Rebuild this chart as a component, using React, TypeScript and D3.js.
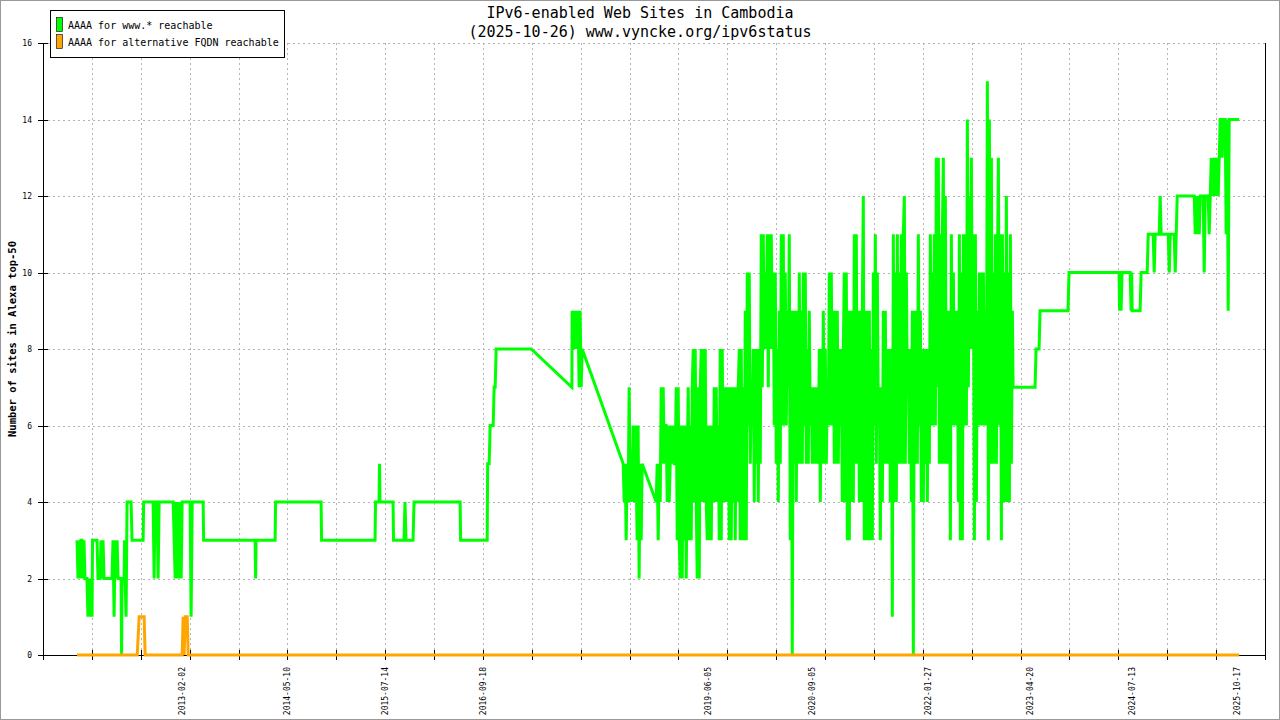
import React from "react";
import * as d3 from "d3";

// ---------- data ----------
const chartTitle = "IPv6-enabled Web Sites in Cambodia";
const chartSubtitle = "(2025-10-26) www.vyncke.org/ipv6status";
const yAxisLabel = "Number of sites in Alexa top-50";
const seriesNames = ["AAAA for www.* reachable", "AAAA for alternative FQDN reachable"];
const seriesColors = ["#00ff00", "#ffa500"];
const xDomainDates = ["2011-06-03", "2026-02-18"];
const yDomain = [0, 16];
const yTickValues = [0, 2, 4, 6, 8, 10, 12, 14, 16];
const xTickCount = 25;
const xTickLabels = [
  "2013-02-02", "2014-05-10", "2015-07-14", "2016-09-18", "2019-06-05",
  "2020-09-05", "2022-01-27", "2023-04-20", "2024-07-13", "2025-10-17",
];

// green series, [decimal year, sites]
const greenEarly: [number, number][] = [
  [2011.829, 3], [2011.841, 2], [2011.853, 3], [2011.865, 2], [2011.877, 3], [2011.889, 3],
  [2011.901, 2], [2011.913, 3], [2011.925, 2], [2011.949, 2], [2011.961, 1], [2011.973, 2],
  [2011.986, 1], [2011.998, 2], [2012.010, 1], [2012.016, 3], [2012.070, 3], [2012.082, 2],
  [2012.106, 2], [2012.118, 3], [2012.130, 2], [2012.142, 3], [2012.154, 2], [2012.250, 2],
  [2012.262, 3], [2012.275, 1], [2012.287, 3], [2012.299, 2], [2012.311, 3], [2012.323, 2],
  [2012.359, 2], [2012.365, 0], [2012.371, 2], [2012.395, 2], [2012.401, 3], [2012.407, 2],
  [2012.419, 1], [2012.431, 4], [2012.479, 4], [2012.491, 3], [2012.624, 3], [2012.630, 4],
  [2012.744, 4], [2012.756, 2], [2012.768, 4], [2012.792, 4], [2012.804, 2], [2012.816, 4],
  [2012.985, 4], [2012.997, 3], [2013.009, 2], [2013.021, 4], [2013.033, 2], [2013.045, 4],
  [2013.057, 2], [2013.069, 4], [2013.081, 2], [2013.093, 4], [2013.189, 4], [2013.201, 1],
  [2013.214, 4], [2013.346, 4], [2013.352, 3], [2013.972, 3], [2013.978, 2], [2013.984, 3],
  [2014.213, 3], [2014.219, 4], [2014.767, 4], [2014.773, 3], [2015.417, 3], [2015.423, 4],
  [2015.465, 4], [2015.471, 5], [2015.477, 4], [2015.634, 4], [2015.640, 3], [2015.766, 3],
  [2015.778, 4], [2015.790, 3], [2015.875, 3], [2015.887, 4], [2016.441, 4], [2016.447, 3],
  [2016.766, 3], [2016.772, 5], [2016.790, 5], [2016.802, 6], [2016.838, 6], [2016.850, 7],
  [2016.862, 7], [2016.874, 8], [2017.296, 8], [2017.786, 7], [2017.789, 9], [2017.801, 8],
  [2017.813, 9], [2017.825, 8], [2017.837, 9], [2017.849, 8], [2017.861, 9], [2017.873, 7],
  [2017.885, 9], [2017.898, 7], [2017.910, 8], [2018.404, 5], [2018.416, 4], [2018.428, 5],
  [2018.440, 3], [2018.452, 5], [2018.464, 4], [2018.476, 7], [2018.488, 4], [2018.500, 5],
  [2018.512, 4], [2018.524, 6], [2018.536, 4], [2018.548, 6], [2018.560, 5], [2018.572, 3],
  [2018.584, 6], [2018.596, 2], [2018.608, 5], [2018.621, 3], [2018.633, 5], [2018.802, 4],
];

// dense period 2018-10 .. 2023-02: readings every ~4.4 days
const greenNoiseStart = 2018.814;
const greenNoiseStepDays = 4.4;
const greenNoise: number[] = [
  5, 3, 5, 4, 7, 5, 7, 5, 6, 6, 4, 6, 4, 5, 6, 5, 6, 5, 5,
  7, 3, 7, 3, 2, 6, 2, 6, 3, 6, 2, 5, 7, 3, 6, 3, 7,
  8, 4, 8, 4, 2, 7, 2, 7, 8, 4, 8, 4, 8, 4, 3, 6,
  3, 6, 3, 6, 4, 7, 4, 7, 4, 6, 3, 8, 3, 8, 4,
  7, 4, 7, 4, 7, 3, 7, 3, 7, 4, 7, 3, 7, 4, 7,
  8, 3, 8, 3, 7, 3, 9, 3, 10, 6, 10, 5, 7, 6, 8,
  4, 8, 5, 8, 4, 8, 5, 11, 7, 11, 8, 10, 8, 11, 7,
  11, 8, 11, 8, 10, 6, 10, 5, 8, 4, 9, 5, 11, 6, 11,
  6, 10, 6, 9, 7, 11, 3, 9, 0, 9, 5, 9, 4, 9, 5,
  10, 5, 9, 5, 10, 6, 10, 5, 8, 5, 9, 6, 7, 5, 7, 5, 7,
  5, 7, 5, 8, 4, 8, 5, 9, 5, 8, 5, 7, 6,
  10, 6, 10, 6, 9, 5, 9, 5, 9, 5, 8, 6, 8, 4, 8,
  10, 4, 10, 3, 9, 3, 9, 4, 9, 4, 11, 5, 11, 5,
  9, 4, 9, 4, 9, 12, 3, 9, 3, 9, 3, 9, 3, 8, 3, 10,
  6, 11, 5, 10, 6, 7, 3, 7, 4, 9, 5, 9,
  5, 8, 5, 8, 4, 8, 1, 11, 4, 10, 4, 11,
  5, 10, 5, 11, 5, 11, 12, 5, 10, 7, 8, 5, 8, 4, 9, 0,
  9, 5, 9, 5, 11, 6, 9, 4, 8, 4, 8, 5, 8, 4, 8, 5,
  11, 6, 10, 6, 11, 6, 13, 7, 13, 5, 11, 5, 11, 13, 5, 12,
  5, 9, 5, 9, 3, 11, 6, 10, 6, 9, 6, 9,
  4, 11, 3, 10, 3, 11, 6, 11, 6, 14, 7, 12, 8, 13, 8,
  11, 3, 11, 4, 9, 6, 10, 6, 10, 6, 10, 6, 9, 6, 15, 3,
  14, 5, 13, 5, 10, 5, 11, 5, 10, 13, 6, 11, 3, 11, 4,
  10, 4, 12, 4, 10, 4, 11, 5, 9,
];

const greenLate: [number, number][] = [
  [2023.099, 7], [2023.364, 7], [2023.376, 8], [2023.412, 8], [2023.424, 9], [2023.761, 9],
  [2023.773, 10], [2024.375, 10], [2024.381, 9], [2024.387, 10], [2024.399, 9], [2024.411, 10],
  [2024.508, 10], [2024.520, 9], [2024.526, 10], [2024.532, 9], [2024.628, 9], [2024.640, 10],
  [2024.713, 10], [2024.725, 11], [2024.785, 11], [2024.797, 10], [2024.809, 11], [2024.857, 11],
  [2024.869, 12], [2024.881, 11], [2024.966, 11], [2024.978, 10], [2024.990, 11], [2025.038, 11],
  [2025.050, 10], [2025.062, 11], [2025.074, 12], [2025.279, 12], [2025.291, 11], [2025.303, 12],
  [2025.315, 11], [2025.327, 12], [2025.339, 11], [2025.351, 12], [2025.387, 12], [2025.399, 10],
  [2025.411, 12], [2025.447, 12], [2025.459, 11], [2025.472, 12], [2025.484, 13], [2025.496, 12],
  [2025.508, 13], [2025.520, 12], [2025.532, 13], [2025.544, 12], [2025.556, 13], [2025.568, 12],
  [2025.580, 13], [2025.592, 14], [2025.604, 14], [2025.616, 13], [2025.628, 14], [2025.652, 14],
  [2025.664, 11], [2025.676, 14], [2025.688, 9], [2025.700, 14], [2025.820, 14],
];

const orangePoints: [number, number][] = [
  [2011.829, 0], [2012.553, 0], [2012.576, 1], [2012.636, 1], [2012.648, 0], [2013.093, 0],
  [2013.105, 1], [2013.117, 0], [2013.130, 1], [2013.154, 1], [2013.166, 0], [2025.820, 0],
];

// ---------- helpers ----------
const DAY = 86400000;
function yearToDate(y: number): Date {
  const yr = Math.floor(y);
  const a = Date.UTC(yr, 0, 1);
  const b = Date.UTC(yr + 1, 0, 1);
  return new Date(a + (y - yr) * (b - a));
}
function parseDay(s: string): Date {
  const [y, m, d] = s.split("-").map(Number);
  return new Date(Date.UTC(y, m - 1, d));
}

const M = { left: 43, right: 1265, top: 43, bottom: 655 };
const MONO = "'DejaVu Sans Mono', 'Liberation Mono', monospace";

export default function App() {
  const x = d3
    .scaleUtc()
    .domain(xDomainDates.map(parseDay))
    .range([M.left, M.right]);
  const y = d3.scaleLinear().domain(yDomain).range([M.bottom, M.top]);

  const noiseStart = yearToDate(greenNoiseStart).getTime();
  const greenSeries: [Date, number][] = [
    ...greenEarly.map(([t, v]) => [yearToDate(t), v] as [Date, number]),
    ...greenNoise.map((v, i) => [new Date(noiseStart + i * greenNoiseStepDays * DAY), v] as [Date, number]),
    ...greenLate.map(([t, v]) => [yearToDate(t), v] as [Date, number]),
  ];
  const orangeSeries: [Date, number][] = orangePoints.map(([t, v]) => [yearToDate(t), v]);

  const line = d3
    .line<[Date, number]>()
    .x((d) => x(d[0]))
    .y((d) => y(d[1]));

  const [d0, d1] = x.domain().map((d) => d.getTime());
  const xTicks = d3.range(xTickCount + 1).map((i) => new Date(d0 + ((d1 - d0) * i) / xTickCount));

  return (
    <div style={{ position: "absolute", left: 0, top: 0 }}>
      <svg width={1280} height={720} style={{ display: "block", background: "#fff" }}>
        <rect x={0.5} y={0.5} width={1279} height={719} fill="#fff" stroke="#999" strokeWidth={1} />

        {/* grid */}
        <g stroke="#b4b4b4" strokeWidth={1} strokeDasharray="2,3" shapeRendering="crispEdges">
          {yTickValues.filter((v) => v > 0).map((v) => (
            <line key={"gy" + v} x1={M.left} x2={M.right} y1={Math.round(y(v)) + 0.5} y2={Math.round(y(v)) + 0.5} />
          ))}
          {xTicks.slice(1, -1).map((t, i) => (
            <line key={"gx" + i} x1={Math.round(x(t)) + 0.5} x2={Math.round(x(t)) + 0.5} y1={M.top} y2={M.bottom} />
          ))}
        </g>

        {/* axes */}
        <g stroke="#000" strokeWidth={1} shapeRendering="crispEdges">
          <line x1={M.left + 0.5} x2={M.left + 0.5} y1={M.top} y2={M.bottom + 5} />
          <line x1={M.right + 0.5} x2={M.right + 0.5} y1={M.top} y2={M.bottom + 5} />
          <line x1={M.left} x2={M.right} y1={M.bottom + 0.5} y2={M.bottom + 0.5} />
          {yTickValues.map((v) => (
            <line key={"ty" + v} x1={M.left - 5} x2={M.left + 5} y1={Math.round(y(v)) + 0.5} y2={Math.round(y(v)) + 0.5} />
          ))}
          {xTicks.slice(1, -1).map((t, i) => (
            <line key={"tx" + i} x1={Math.round(x(t)) + 0.5} x2={Math.round(x(t)) + 0.5} y1={M.bottom - 5} y2={M.bottom + 5} />
          ))}
        </g>

        {/* y tick labels */}
        <g fontFamily={MONO} fontSize={8} fill="#000" textAnchor="end">
          {yTickValues.map((v) => (
            <text key={"ly" + v} x={32} y={y(v) + 3}>{v}</text>
          ))}
        </g>

        {/* x tick labels */}
        <g fontFamily={MONO} fontSize={8} fill="#000" textAnchor="end">
          {xTickLabels.map((s) => {
            const px = x(parseDay(s));
            return (
              <text key={s} transform={`translate(${px + 3},667) rotate(-90)`}>{s}</text>
            );
          })}
        </g>

        {/* y axis label */}
        <text
          transform="translate(16,339) rotate(-90)"
          textAnchor="middle"
          fontFamily={MONO}
          fontSize={10.5}
          fontWeight="bold"
        >
          {yAxisLabel}
        </text>

        {/* series */}
        <path d={line(greenSeries) || ""} fill="none" stroke={seriesColors[0]} strokeWidth={3} />
        <path d={line(orangeSeries) || ""} fill="none" stroke={seriesColors[1]} strokeWidth={3} />

        {/* title */}
        <g fontFamily={MONO} fontSize={15} textAnchor="middle" fill="#000">
          <text x={640} y={18}>{chartTitle}</text>
          <text x={640} y={37}>{chartSubtitle}</text>
        </g>

        {/* legend */}
        <g>
          <rect x={50.5} y={10.5} width={234} height={47} fill="#fff" stroke="#000" strokeWidth={1} />
          {seriesNames.map((name, i) => (
            <g key={name}>
              <rect x={56.5} y={17.5 + i * 17} width={6} height={14} fill={seriesColors[i]} stroke="#000" strokeWidth={0.6} />
              <text x={68} y={29 + i * 17} fontFamily={MONO} fontSize={10} fill="#000">{name}</text>
            </g>
          ))}
        </g>
      </svg>
    </div>
  );
}
